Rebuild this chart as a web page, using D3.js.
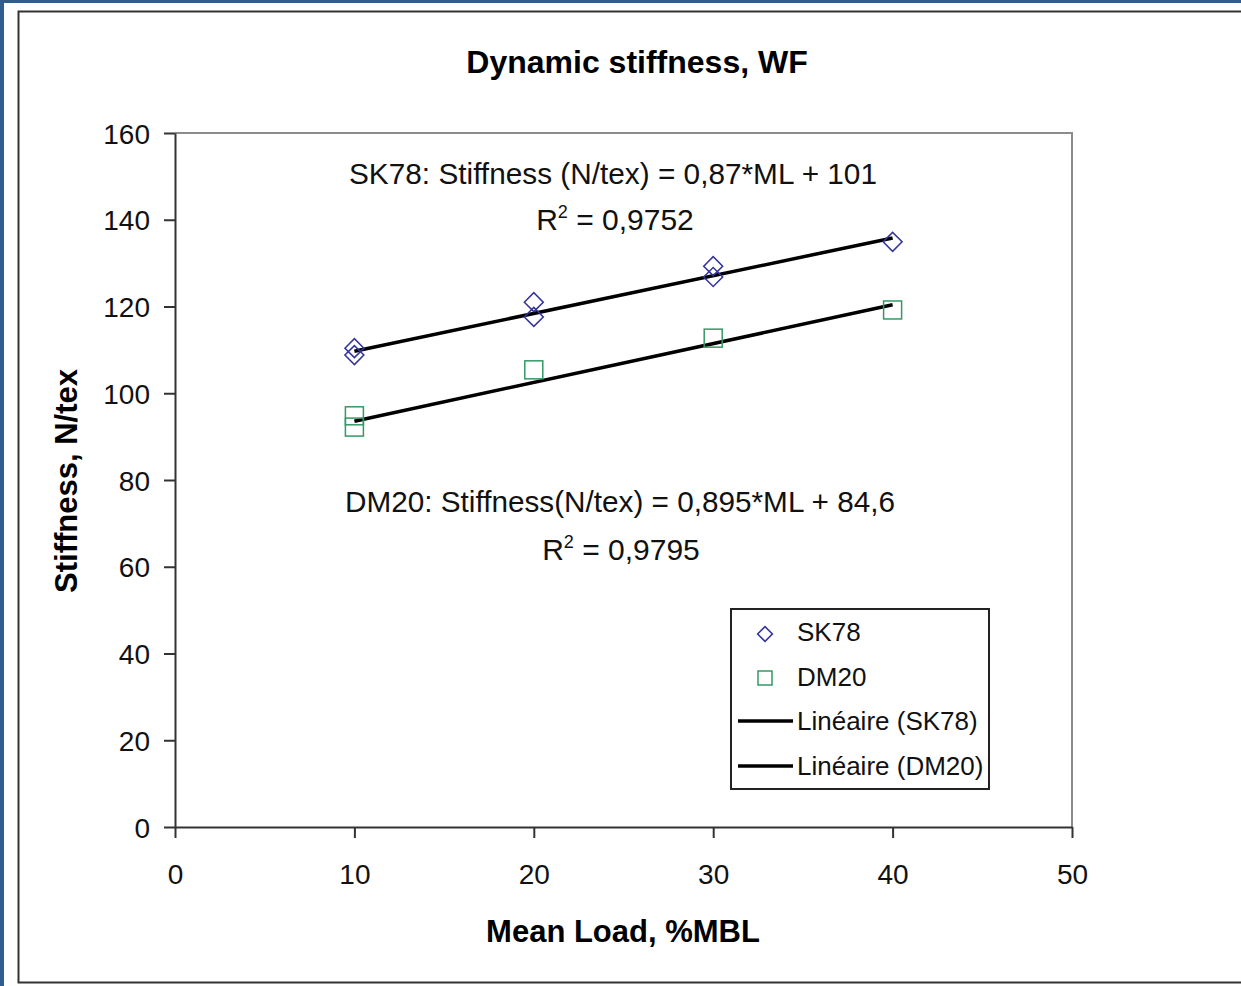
<!DOCTYPE html>
<html>
<head>
<meta charset="utf-8">
<script src="https://cdn.jsdelivr.net/npm/d3@7"></script>
<style>
  body { margin: 0; background: #fff; }
  text { font-family: "Liberation Sans", Arial, sans-serif; }
</style>
</head>
<body>
<svg id="chart"></svg>
<script>
// data
var sk78X = [10, 10, 20, 20, 30, 30, 40];
var sk78Y = [110.4, 108.8, 121.0, 117.6, 129.3, 126.8, 134.9];
var dm20X = [10, 10, 20, 30, 40];
var dm20Y = [94.8, 92.2, 105.4, 112.7, 119.2];
var trendSK78 = { slope: 0.87, intercept: 101 };
var trendDM20 = { slope: 0.895, intercept: 84.6 };
var xTicks = [0, 10, 20, 30, 40, 50];
var yTicks = [0, 20, 40, 60, 80, 100, 120, 140, 160];
var legendLabels = ["SK78", "DM20", "Linéaire (SK78)", "Linéaire (DM20)"];

var W = 1241, H = 986;
var margin = { left: 175, right: 169, top: 133, bottom: 159 };
var width = W - margin.left - margin.right,
  height = H - margin.top - margin.bottom;

var svg = d3.select("#chart").attr("width", W).attr("height", H);

// outer frame
svg.append("rect").attr("width", W).attr("height", H).attr("fill", "#2f5e8e");
svg.append("rect").attr("x", 4).attr("y", 3).attr("width", W - 4).attr("height", H - 3).attr("fill", "#fff");
svg.append("rect")
  .attr("x", 18.5).attr("y", 11.5).attr("width", W + 10).attr("height", 971)
  .attr("fill", "none").attr("stroke", "#333").attr("stroke-width", 2);

var x = d3.scaleLinear().domain([0, 50]).range([0, width]);
var y = d3.scaleLinear().domain([0, 160]).range([height, 0]);

var g = svg.append("g").attr("transform", `translate(${margin.left},${margin.top})`);

// plot area border (top/right grey)
g.append("path")
  .attr("d", `M0,0H${width}V${height}`)
  .attr("fill", "none").attr("stroke", "#8c8c8c").attr("stroke-width", 2);

// axes
var yAxis = g.append("g")
  .call(d3.axisLeft(y).tickValues(yTicks).tickSize(11).tickPadding(14).tickSizeOuter(0));
var xAxis = g.append("g")
  .attr("transform", `translate(0,${height})`)
  .call(d3.axisBottom(x).tickValues(xTicks).tickSize(11).tickPadding(26).tickSizeOuter(0));
[xAxis, yAxis].forEach(function (a) {
  a.select(".domain").attr("stroke", "#333").attr("stroke-width", 2);
  a.selectAll(".tick line").attr("stroke", "#333").attr("stroke-width", 2);
  a.selectAll(".tick text").attr("fill", "#111").style("font-size", "28px");
});
yAxis.selectAll(".tick text").attr("dy", "0.36em");

// trend lines
function trendLine(t) {
  return [10, 40].map(function (v) { return [x(v), y(t.slope * v + t.intercept)]; });
}
var line = d3.line();
[trendSK78, trendDM20].forEach(function (t) {
  g.append("path").attr("d", line(trendLine(t)))
    .attr("stroke", "#000").attr("stroke-width", 3.5).attr("fill", "none");
});

// markers
var diamond = d3.symbol().type(d3.symbolSquare).size(180);
g.selectAll(".sk").data(sk78X).enter().append("path")
  .attr("d", diamond)
  .attr("transform", function (d, i) { return `translate(${x(d)},${y(sk78Y[i])}) rotate(45)`; })
  .attr("fill", "none").attr("stroke", "#333399").attr("stroke-width", 1.5);
g.selectAll(".dm").data(dm20X).enter().append("rect")
  .attr("x", function (d) { return x(d) - 9; })
  .attr("y", function (d, i) { return y(dm20Y[i]) - 9; })
  .attr("width", 18).attr("height", 18)
  .attr("fill", "none").attr("stroke", "#339966").attr("stroke-width", 1.5);

// equation labels
function eq(txt, cx, cy, len) {
  return svg.append("text").attr("x", cx).attr("y", cy).attr("text-anchor", "middle")
    .attr("textLength", len).attr("lengthAdjust", "spacingAndGlyphs")
    .style("font-size", "30px").attr("fill", "#111").text(txt);
}
function r2(txt, cx, cy) {
  var t = svg.append("text").attr("x", cx).attr("y", cy).attr("text-anchor", "middle")
    .style("font-size", "30px").attr("fill", "#111");
  t.append("tspan").text("R");
  t.append("tspan").attr("dy", -12).style("font-size", "18px").text("2");
  t.append("tspan").attr("dy", 12).text(" = " + txt);
}
eq("SK78: Stiffness (N/tex) = 0,87*ML + 101", 613, 184, 528);
r2("0,9752", 615, 230);
eq("DM20: Stiffness(N/tex) = 0,895*ML + 84,6", 620, 512, 550);
r2("0,9795", 621, 560);

// titles
svg.append("text").attr("x", 637).attr("y", 73).attr("text-anchor", "middle")
  .style("font-size", "32px").style("font-weight", "bold").text("Dynamic stiffness, WF");
svg.append("text").attr("x", 623).attr("y", 942).attr("text-anchor", "middle")
  .style("font-size", "31px").style("font-weight", "bold").text("Mean Load, %MBL");
svg.append("text").attr("transform", "translate(77,481) rotate(-90)").attr("text-anchor", "middle")
  .style("font-size", "31px").style("font-weight", "bold").text("Stiffness, N/tex");

// legend
var lg = svg.append("g").attr("transform", "translate(731,609)");
lg.append("rect").attr("width", 258).attr("height", 180)
  .attr("fill", "#fff").attr("stroke", "#222").attr("stroke-width", 2);
var rowY = [23, 68, 112, 157];
lg.selectAll(".lt").data(legendLabels).enter().append("text")
  .attr("x", 66).attr("y", function (d, i) { return rowY[i]; }).attr("dy", "0.35em")
  .style("font-size", "26px").attr("fill", "#111").text(function (d) { return d; });
lg.append("path").attr("d", d3.symbol().type(d3.symbolSquare).size(110))
  .attr("transform", `translate(34,${rowY[0] + 2}) rotate(45)`)
  .attr("fill", "none").attr("stroke", "#333399").attr("stroke-width", 1.5);
lg.append("rect").attr("x", 27).attr("y", rowY[1] + 1 - 7).attr("width", 14).attr("height", 14)
  .attr("fill", "none").attr("stroke", "#339966").attr("stroke-width", 1.5);
[rowY[2], rowY[3]].forEach(function (ry) {
  lg.append("line").attr("x1", 7).attr("x2", 62).attr("y1", ry).attr("y2", ry)
    .attr("stroke", "#000").attr("stroke-width", 3.5);
});
</script>
</body>
</html>
